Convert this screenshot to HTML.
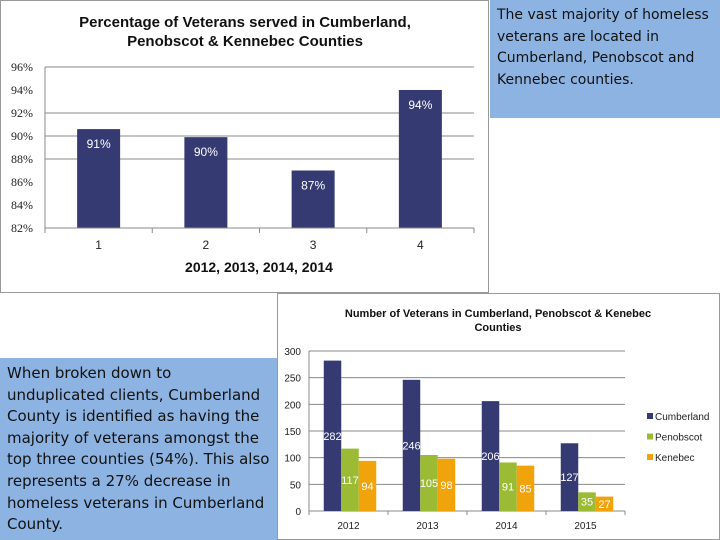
<!DOCTYPE html>
<html><head><meta charset="utf-8"><style>
body{margin:0;width:720px;height:540px;position:relative;background:#fff;font-family:"Liberation Sans",sans-serif;overflow:hidden}
.box{position:absolute;background:#8db3e2;color:#111;font-family:"DejaVu Sans","Liberation Sans",sans-serif}
</style></head><body>
<svg style="position:absolute;left:0;top:0" width="490" height="294" id="c1"></svg>
<div class="box" style="left:490px;top:0;width:230px;height:118px;font-size:14px;line-height:21.7px;padding:5px 0 0 7px;box-sizing:border-box">The vast majority of homeless veterans are located in Cumberland,  Penobscot and Kennebec counties.</div>
<div class="box" style="left:0;top:358px;width:277px;height:182px;font-size:15px;line-height:21.6px;padding:5px 4px 0 7px;box-sizing:border-box">When broken down to unduplicated clients, Cumberland County is identified as having the majority of veterans amongst the top three counties (54%).  This also represents a 27% decrease in homeless veterans in Cumberland County.</div>
<svg style="position:absolute;left:277px;top:293px" width="443" height="247" id="c2"></svg>
<script>
const pctCats=["1","2","3","4"];
const pctVals=[90.6,89.9,87.0,94.0];
const pctLabels=["91%","90%","87%","94%"];
const pctTicks=[82,84,86,88,90,92,94,96];
const pctGrid=[88,90,92,96];
const yrCats=["2012","2013","2014","2015"];
const cumberland=[282,246,206,127];
const penobscot=[117,105,91,35];
const kenebec=[94,98,85,27];
const cntTicks=[0,50,100,150,200,250,300];
const NS="http://www.w3.org/2000/svg";
function mk(p,t,a,txt){const e=document.createElementNS(NS,t);for(const k in a)e.setAttribute(k,a[k]);if(txt!=null)e.textContent=txt;p.appendChild(e);return e;}
// chart 1
(function(){
const s=document.getElementById('c1');
mk(s,'rect',{x:0.5,y:0.5,width:488,height:292,fill:'#fff',stroke:'#999'});
const x0=45,x1=474,y0=228,y1=67;
const y=v=>y0-(v-82)/(96-82)*(y0-y1);
const bw=(x1-x0)/pctCats.length;
let t=mk(s,'text',{x:245,y:27,'text-anchor':'middle','font-size':15,'font-weight':'bold',fill:'#111'},'Percentage of Veterans served in Cumberland,');

t=mk(s,'text',{x:245,y:46,'text-anchor':'middle','font-size':15,'font-weight':'bold',fill:'#111'},'Penobscot & Kennebec Counties');

pctGrid.forEach(v=>{const g=mk(s,'line',{x1:x0,x2:x1,y1:y(v),y2:y(v),stroke:'#888','stroke-width':1});
});
pctTicks.forEach(v=>{const e=mk(s,'text',{x:33,y:y(v)+4,'text-anchor':'end','font-size':12,fill:'#222','font-family':'Liberation Serif,serif'},v+'%');
});
pctVals.forEach((v,i)=>{const cx=x0+bw*(i+0.5);
const r=mk(s,'rect',{x:cx-21.5,y:y(v),width:43,height:y0-y(v),fill:'#353b72'});

const l=mk(s,'text',{x:cx,y:y(v)+19,'text-anchor':'middle','font-size':12,fill:'#fff'},pctLabels[i]);

const c=mk(s,'text',{x:cx,y:249,'text-anchor':'middle','font-size':12,fill:'#222'},pctCats[i]);
});
mk(s,'line',{x1:x0,x2:x1,y1:y0,y2:y0,stroke:'#888'});
mk(s,'line',{x1:x0,x2:x0,y1:y1,y2:y0+5,stroke:'#888'});
for(let i=0;i<=pctCats.length;i++)mk(s,'line',{x1:x0+bw*i,x2:x0+bw*i,y1:y0,y2:y0+5,stroke:'#888'});
t=mk(s,'text',{x:259,y:272,'text-anchor':'middle','font-size':14,'font-weight':'bold',fill:'#111'},'2012, 2013, 2014, 2014');

})();
// chart 2
(function(){
const s=document.getElementById('c2');
mk(s,'rect',{x:0.5,y:0.5,width:442,height:246,fill:'#fff',stroke:'#999'});
const x0=32,x1=348,y0=218,y1=58;
const y=v=>y0-v/300*(y0-y1);
const gw=(x1-x0)/yrCats.length,bw=17.5;
let t=mk(s,'text',{x:221,y:24,'text-anchor':'middle','font-size':11,'font-weight':'bold',fill:'#111'},'Number of Veterans in Cumberland, Penobscot & Kenebec');

t=mk(s,'text',{x:221,y:38,'text-anchor':'middle','font-size':11,'font-weight':'bold',fill:'#111'},'Counties');

cntTicks.forEach(v=>{const g=mk(s,'line',{x1:x0,x2:x1,y1:y(v),y2:y(v),stroke:'#888'});

const e=mk(s,'text',{x:24,y:y(v)+4,'text-anchor':'end','font-size':10,fill:'#222'},v);
});
const series=[[cumberland,'#353b72','Cumberland'],[penobscot,'#9bbb34','Penobscot'],[kenebec,'#f0a30a','Kenebec']];
yrCats.forEach((c,i)=>{const cx=x0+gw*(i+0.5)+1.5;
series.forEach((sr,j)=>{const v=sr[0][i];const bx=cx-bw*1.5+bw*j;
const r=mk(s,'rect',{x:bx,y:y(v),width:bw,height:y0-y(v),fill:sr[1]});

const l=mk(s,'text',{x:bx+bw/2,y:y(v/2)+4,'text-anchor':'middle','font-size':11,fill:'#fff'},v);
});
const e=mk(s,'text',{x:cx-1.5,y:236,'text-anchor':'middle','font-size':10,fill:'#222'},c);
});
mk(s,'line',{x1:x0,x2:x0,y1:y1,y2:y0,stroke:'#888'});
for(let i=0;i<=yrCats.length;i++)mk(s,'line',{x1:x0+gw*i,x2:x0+gw*i,y1:y0,y2:y0+4,stroke:'#888'});
series.forEach((sr,j)=>{const ly=125+j*20.5;
const r=mk(s,'rect',{x:370,y:ly-5,width:6,height:6,fill:sr[1]});

const e=mk(s,'text',{x:378,y:ly+2,'font-size':10,fill:'#222'},sr[2]);
});
})();
</script>
</body></html>
